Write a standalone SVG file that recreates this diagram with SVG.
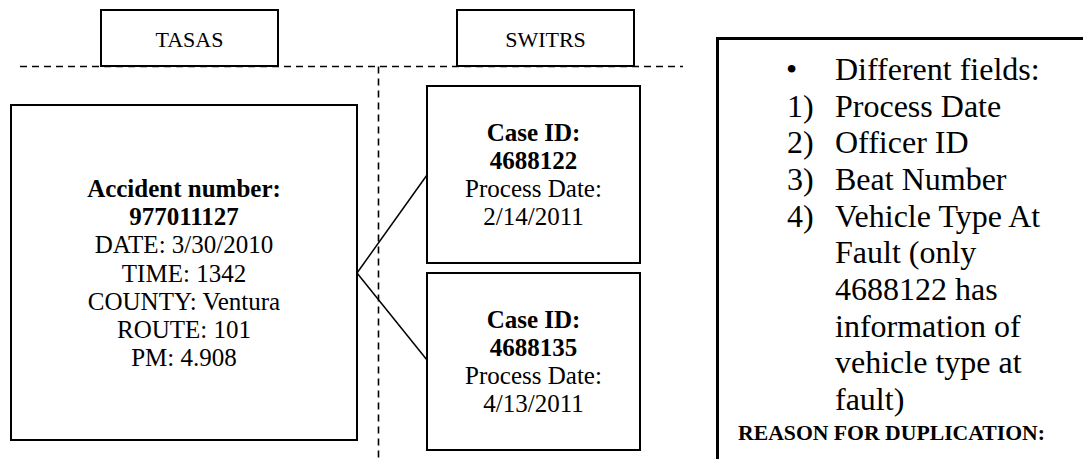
<svg xmlns="http://www.w3.org/2000/svg" width="1083" height="459" viewBox="0 0 1083 459">
<style>
.box{fill:#fff;stroke:#000;stroke-width:2}
.dash{fill:none;stroke:#000;stroke-width:1.6;stroke-dasharray:7 5}
.c{font-family:"Liberation Serif","Times New Roman",serif;font-size:25px;fill:#000;text-anchor:middle}
.b{font-weight:bold}
.t{font-family:"Liberation Serif","Times New Roman",serif;font-size:32px;fill:#000}
.con{fill:none;stroke:#000;stroke-width:1.5}
</style>
<rect width="1083" height="459" fill="#fff"/>
<g id="dividers">
<path class="dash" d="M20 66.5 H683"/>
<path class="dash" d="M378.5 66.5 V459"/>
</g>
<g id="tasas">
<rect class="box" x="101" y="10" width="177" height="56"/>
<text class="c" x="189.5" y="47" style="font-size:22px">TASAS</text>
</g>
<g id="switrs">
<rect class="box" x="457" y="10" width="177" height="56"/>
<text class="c" x="545.5" y="47" style="font-size:22px">SWITRS</text>
</g>
<g id="connectors">
<line class="con" x1="357" y1="273" x2="427" y2="175"/>
<line class="con" x1="357" y1="273" x2="427" y2="360"/>
</g>
<g id="accident">
<rect class="box" x="11" y="105" width="346" height="335"/>
<text class="c b" x="184" y="197">Accident number:</text>
<text class="c b" x="184" y="225">977011127</text>
<text class="c" x="184" y="253">DATE: 3/30/2010</text>
<text class="c" x="184" y="281.5">TIME: 1342</text>
<text class="c" x="184" y="310">COUNTY: Ventura</text>
<text class="c" x="184" y="338">ROUTE: 101</text>
<text class="c" x="184" y="366">PM: 4.908</text>
</g>
<g id="case1">
<rect class="box" x="427" y="86" width="213" height="177"/>
<text class="c b" x="533.5" y="141">Case ID:</text>
<text class="c b" x="533.5" y="169">4688122</text>
<text class="c" x="533.5" y="197">Process Date:</text>
<text class="c" x="533.5" y="225">2/14/2011</text>
</g>
<g id="case2">
<rect class="box" x="427" y="273" width="213" height="177"/>
<text class="c b" x="533.5" y="328">Case ID:</text>
<text class="c b" x="533.5" y="356">4688135</text>
<text class="c" x="533.5" y="384">Process Date:</text>
<text class="c" x="533.5" y="412">4/13/2011</text>
</g>
<g id="notes">
<rect x="717.5" y="38.5" width="400" height="450" fill="#fff" stroke="#000" stroke-width="3"/>
<text class="t" x="786" y="80">•</text>
<text class="t" x="835" y="80">Different fields:</text>
<text class="t" x="787" y="116.7">1)</text>
<text class="t" x="835" y="116.7">Process Date</text>
<text class="t" x="787" y="153.3">2)</text>
<text class="t" x="835" y="153.3">Officer ID</text>
<text class="t" x="787" y="190">3)</text>
<text class="t" x="835" y="190">Beat Number</text>
<text class="t" x="787" y="226.7">4)</text>
<text class="t" x="835" y="226.7">Vehicle Type At</text>
<text class="t" x="835" y="263.3">Fault (only</text>
<text class="t" x="835" y="300">4688122 has</text>
<text class="t" x="835" y="336.7">information of</text>
<text class="t" x="835" y="373.3">vehicle type at</text>
<text class="t" x="835" y="410">fault)</text>
<text class="t b" x="738" y="440" style="font-size:20px" textLength="307" lengthAdjust="spacingAndGlyphs">REASON FOR DUPLICATION:</text>
</g>
</svg>
